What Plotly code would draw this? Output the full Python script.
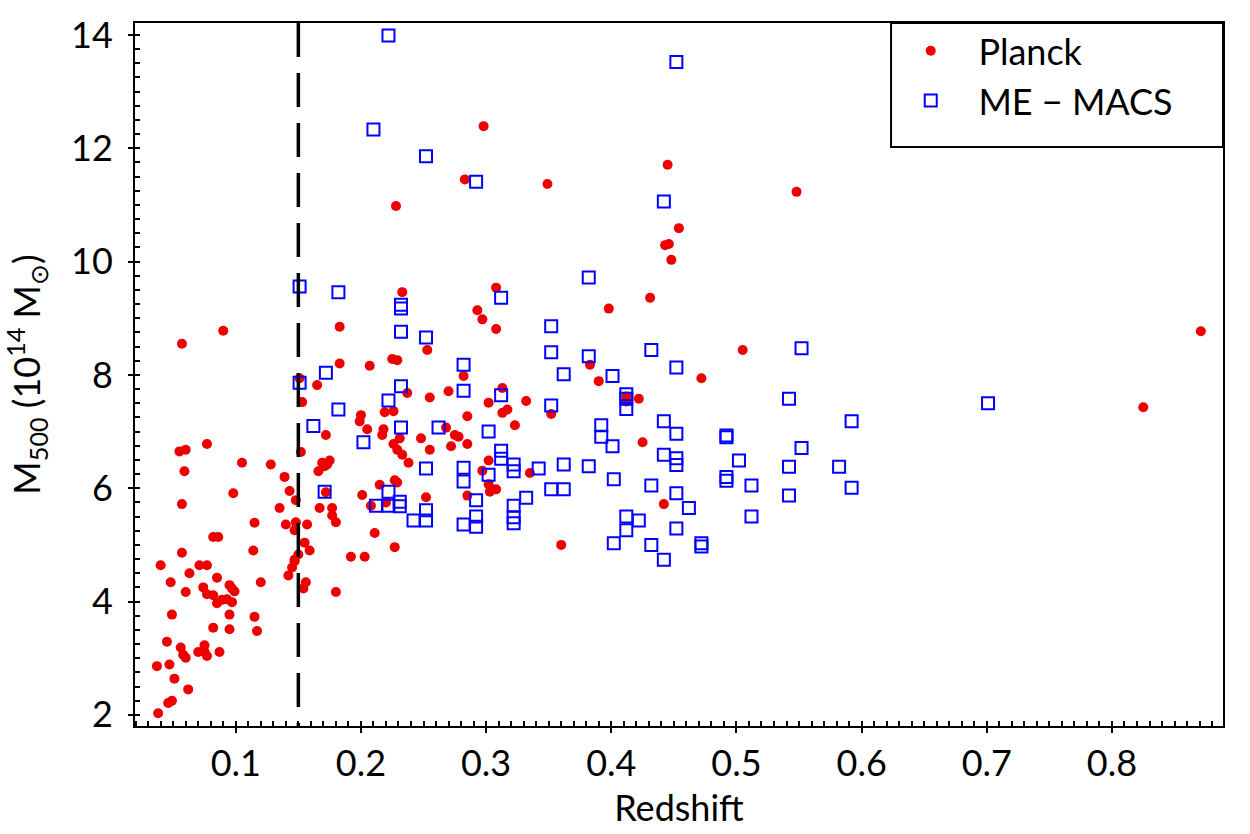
import plotly.graph_objects as go

planck_z = [0.040,0.063,0.071,0.077,0.048,0.085,0.060,0.074,0.077,0.082,0.085,0.089,0.095,0.099,0.097,0.093,0.097,0.120,
            0.049,0.095,0.115,0.082,0.095,0.117,0.045,0.056,0.058,0.060,0.070,0.075,0.075,0.077,0.087,0.037,0.047,0.051,
            0.062,0.046,0.049,0.038,0.142,0.145,0.147,0.150,0.156,0.154,0.180,0.192,0.203,0.153,0.200,0.199,0.205,0.172,
            0.077,0.055,0.060,0.152,0.105,0.128,0.169,0.171,0.175,0.166,0.173,0.059,0.139,0.098,0.143,0.148,0.172,0.201,
            0.057,0.135,0.167,0.177,0.177,0.180,0.208,0.115,0.140,0.148,0.147,0.157,0.082,0.086,0.211,0.155,0.159,0.057,
            0.114,0.147,0.090,0.057,0.183,0.183,0.207,0.151,0.165,0.215,0.229,0.220,0.252,0.302,0.308,0.303,0.285,0.360,
            0.227,0.308,0.253,0.383,0.225,0.229,0.282,0.390,0.237,0.270,0.255,0.313,0.302,0.332,0.352,0.219,0.226,0.313,
            0.317,0.285,0.323,0.218,0.217,0.268,0.275,0.278,0.231,0.248,0.226,0.229,0.233,0.238,0.255,0.272,0.285,0.302,
            0.297,0.335,0.227,0.298,0.283,0.349,0.228,0.233,0.308,0.293,0.297,0.398,0.505,0.472,0.412,0.412,0.422,0.425,
            0.442,0.445,0.548,0.454,0.443,0.446,0.448,0.431,0.871,0.825]
planck_m = [4.64,4.50,4.64,4.64,4.34,4.42,4.17,4.25,4.13,4.11,3.97,4.03,4.29,4.18,3.99,4.04,4.23,4.34,
            3.77,3.77,3.73,3.54,3.51,3.48,3.29,3.19,3.06,3.01,3.11,3.23,3.12,3.04,3.11,2.86,2.89,2.64,
            2.45,2.21,2.25,2.03,4.46,4.60,4.71,4.83,4.34,4.23,4.17,4.79,4.79,7.52,7.29,7.18,7.04,6.94,
            6.78,6.65,6.68,6.64,6.45,6.42,6.45,6.39,6.49,6.30,6.42,6.30,6.20,5.91,5.95,5.79,5.93,5.88,
            5.72,5.65,5.65,5.65,5.52,5.40,5.69,5.39,5.36,5.40,5.26,5.36,5.14,5.14,5.21,5.04,4.90,4.86,
            4.90,4.74,8.78,8.55,8.85,8.20,8.16,7.94,7.82,6.06,6.10,5.75,5.84,6.07,5.98,5.94,5.87,5.00,
            4.96,8.81,8.44,8.18,8.28,8.26,7.98,7.89,7.68,7.71,7.60,7.77,7.51,7.54,7.31,7.34,7.36,7.33,
            7.39,7.27,7.11,7.04,6.94,7.07,6.94,6.91,6.88,6.88,6.78,6.68,6.59,6.45,6.68,6.74,6.78,6.49,
            6.31,6.27,6.14,12.39,11.45,11.37,10.98,9.46,9.54,9.14,8.98,9.17,8.44,7.94,7.62,7.53,7.58,6.81,
            5.72,11.71,11.23,10.59,10.29,10.31,10.03,9.36,8.77,7.43]

macs_z = [0.182,0.162,0.202,0.171,0.212,0.151,0.182,0.210,0.172,0.151,0.222,0.222,0.231,0.231,0.242,0.252,0.252,
          0.282,0.292,0.282,0.292,0.292,0.322,0.322,0.322,0.332,0.352,0.362,0.402,0.402,0.232,0.252,0.352,0.352,
          0.382,0.282,0.362,0.401,0.232,0.282,0.312,0.222,0.352,0.232,0.262,0.302,0.392,0.392,0.401,0.312,0.312,
          0.322,0.322,0.252,0.282,0.302,0.342,0.362,0.382,0.222,0.252,0.292,0.382,0.312,0.232,0.232,0.432,0.552,
          0.452,0.412,0.412,0.412,0.542,0.592,0.442,0.452,0.492,0.492,0.552,0.442,0.452,0.452,0.502,0.542,0.582,
          0.432,0.492,0.492,0.512,0.592,0.452,0.542,0.462,0.412,0.422,0.412,0.512,0.452,0.432,0.472,0.472,0.442,
          0.452,0.442,0.701]
macs_m = [7.39,7.10,6.81,5.94,5.69,9.56,9.46,12.33,8.04,7.86,5.94,5.69,5.76,5.68,5.43,5.43,5.61,
          6.12,5.79,5.36,5.50,5.32,5.69,5.49,5.38,5.83,5.98,5.98,6.16,5.03,8.76,8.66,8.86,8.40,
          8.33,8.18,8.01,7.98,7.80,7.72,7.64,7.55,7.46,7.07,7.07,7.00,7.11,6.91,6.74,6.66,6.52,
          6.42,6.30,6.35,6.36,6.24,6.35,6.42,6.39,13.99,11.86,11.41,9.72,9.36,9.17,9.24,8.44,8.47,
          8.13,7.66,7.58,7.40,7.58,7.18,7.18,6.96,6.90,6.93,6.71,6.59,6.53,6.41,6.49,6.38,6.38,
          6.05,6.20,6.13,6.05,6.01,5.91,5.87,5.65,5.50,5.43,5.26,5.50,5.29,5.00,5.03,4.97,4.74,
          13.52,11.06,7.50]

series_names = ["Planck", "ME − MACS"]

x_range = [0.0195, 0.8887]
y_range = [1.804, 14.21]
z_cut = 0.15

FONT = "Lato"
PAD = "\u00a0\u00a0\u00a0"

fig = go.Figure()
fig.add_trace(go.Scatter(x=planck_z, y=planck_m, mode="markers", name=PAD + series_names[0],
                         marker=dict(symbol="circle", size=10, color="#ee0000")))
fig.add_trace(go.Scatter(x=macs_z, y=macs_m, mode="markers", name=PAD + series_names[1],
                         marker=dict(symbol="square-open", size=12, color="#0000ff",
                                     line=dict(width=2, color="#0000ff"))))

fig.add_shape(type="line", xref="x", yref="paper", x0=z_cut, x1=z_cut, y0=1, y1=0,
              line=dict(color="black", width=3.5, dash="34px,16px"))

# legend frame
fig.add_shape(type="rect", xref="paper", yref="paper", x0=0.6949, x1=1.0, y0=0.8235, y1=1.0,
              line=dict(color="black", width=2), fillcolor="rgba(0,0,0,0)", layer="above")

axis_common = dict(showgrid=False, zeroline=False, showline=True, linecolor="black", linewidth=2,
                   mirror=True, tickcolor="black", tickwidth=2, ticklen=5, ticks="outside",
                   tickfont=dict(family=FONT, size=36, color="black"))

fig.update_layout(
    width=1250, height=834,
    margin=dict(l=135, r=27, t=15, b=105),
    paper_bgcolor="white", plot_bgcolor="white",
    font=dict(family=FONT, color="black"),
    xaxis=dict(range=x_range, dtick=0.1, tick0=0, tickformat=".1f",
               minor=dict(ticks="inside", dtick=0.01, tick0=0, ticklen=5, tickwidth=1.5, tickcolor="black"),
               title=dict(text="Redshift", font=dict(family=FONT, size=36), standoff=13),
               **axis_common),
    yaxis=dict(range=y_range, dtick=2, tick0=0,
               minor=dict(ticks="inside", dtick=0.25, tick0=0, ticklen=5, tickwidth=1.5, tickcolor="black"),
               title=dict(text="M<sub>500</sub> (10<sup>14</sup> M<sub>⊙</sub>)",
                          font=dict(family=FONT, size=36), standoff=21),
               ticklabelstandoff=8,
               **axis_common),
    xaxis2=dict(range=x_range, overlaying="x", anchor="y", side="bottom", showgrid=False, zeroline=False,
                showline=False, showticklabels=False, ticks="inside", ticklen=5, tickwidth=2,
                tickcolor="black", dtick=0.1, tick0=0),
    yaxis2=dict(range=y_range, overlaying="y", anchor="x", side="left", showgrid=False, zeroline=False,
                showline=False, showticklabels=False, ticks="inside", ticklen=5, tickwidth=2,
                tickcolor="black", dtick=2, tick0=0),
    legend=dict(x=0.713, y=1.003, xanchor="left", yanchor="top", bgcolor="rgba(0,0,0,0)",
                borderwidth=0, tracegroupgap=0,
                font=dict(family=FONT, size=36, color="black")),
    showlegend=True,
)

fig.add_trace(go.Scatter(x=[None], y=[None], xaxis="x2", yaxis="y2", showlegend=False, hoverinfo="skip"))

fig.write_html("out.html")
